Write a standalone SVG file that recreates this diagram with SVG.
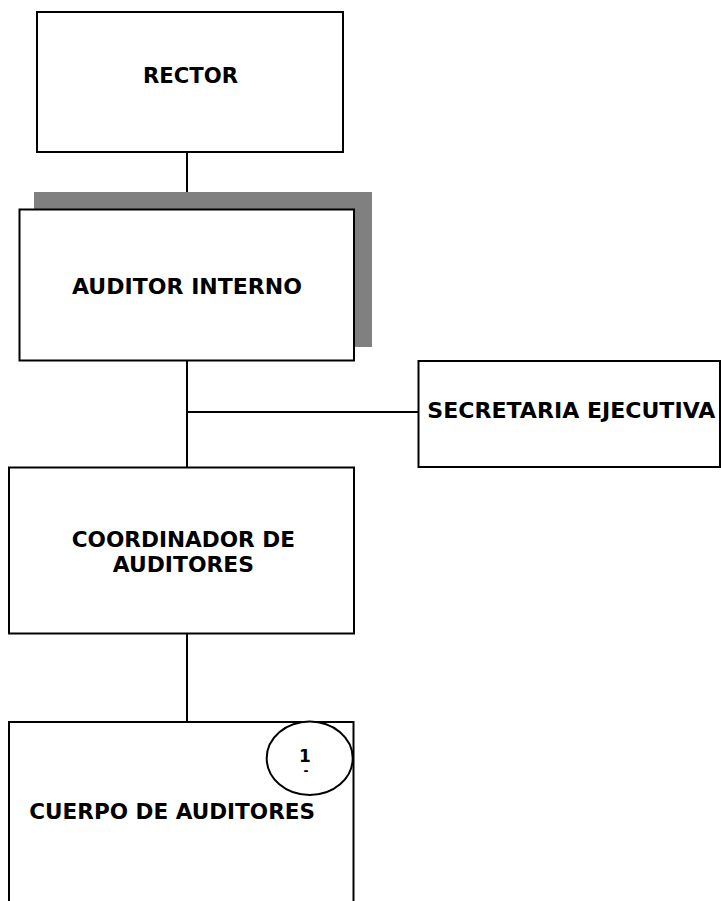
<svg xmlns="http://www.w3.org/2000/svg" width="721" height="901" viewBox="0 0 721 901">
<style>
.box{fill:#fff;stroke:#000;stroke-width:2}
.shadow{fill:#808080;stroke:none}
.lbl{font-family:"DejaVu Sans","Verdana",sans-serif;font-weight:bold;font-size:21.5px;fill:#000}
.conn line{stroke:#000;stroke-width:2}
</style>
<rect width="721" height="901" fill="#fff"/>
<g class="conn" id="connectors">
<line x1="187" y1="152" x2="187" y2="192"/>
<line x1="187" y1="361" x2="187" y2="467"/>
<line x1="187" y1="412" x2="418" y2="412"/>
<line x1="187" y1="634" x2="187" y2="722"/>
</g>
<g id="rector">
<rect class="box" x="37" y="12" width="306" height="140"/>
<text class="lbl" x="143" y="83.3" textLength="95" lengthAdjust="spacingAndGlyphs">RECTOR</text>
</g>
<g id="auditor-interno">
<rect class="shadow" x="34" y="192" width="338" height="155"/>
<rect class="box" x="19.5" y="209.5" width="334.5" height="151"/>
<text class="lbl" x="72" y="294" textLength="230" lengthAdjust="spacingAndGlyphs">AUDITOR INTERNO</text>
</g>
<g id="secretaria-ejecutiva">
<rect class="box" x="418.5" y="361" width="301.5" height="106"/>
<text class="lbl" x="427.3" y="418.3" textLength="288" lengthAdjust="spacingAndGlyphs">SECRETARIA EJECUTIVA</text>
</g>
<g id="coordinador">
<rect class="box" x="9" y="467.5" width="345" height="166"/>
<text class="lbl" x="71.7" y="547.3" textLength="223.3" lengthAdjust="spacingAndGlyphs">COORDINADOR DE</text>
<text class="lbl" x="112.7" y="571.7" textLength="141.3" lengthAdjust="spacingAndGlyphs">AUDITORES</text>
</g>
<g id="cuerpo-auditores">
<rect class="box" x="9" y="722" width="344.5" height="200"/>
<text class="lbl" x="29.3" y="819.3" textLength="285.7" lengthAdjust="spacingAndGlyphs">CUERPO DE AUDITORES</text>
<ellipse cx="309.7" cy="758.3" rx="43" ry="36.7" fill="#fff" stroke="#000" stroke-width="2"/>
<text x="305" y="761.7" text-anchor="middle" font-family="DejaVu Sans, Verdana, sans-serif" font-weight="bold" font-size="17">1</text>
<text x="306" y="775" text-anchor="middle" font-family="DejaVu Sans, Verdana, sans-serif" font-weight="bold" font-size="12">-</text>
</g>
</svg>
